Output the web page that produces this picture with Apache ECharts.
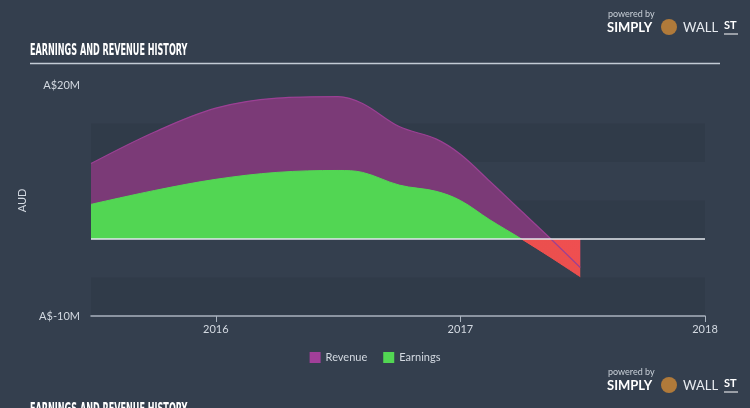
<!DOCTYPE html>
<html>
<head>
<meta charset="utf-8">
<script src="https://cdn.jsdelivr.net/npm/echarts@6/dist/echarts.min.js"></script>
<style>
  html, body { margin: 0; padding: 0; background: #343f4e; }
  #chart { width: 750px; height: 408px; }
</style>
</head>
<body>
<div id="chart"></div>
<script>
// 数据（单位：百万澳元，横轴为小数年份）
const years = [2015.49, 2015.75, 2016.0, 2016.25, 2016.5, 2016.6, 2016.75, 2016.9, 2017.0, 2017.12, 2017.25, 2017.37, 2017.49];
const revenue = [9.8, 13.9, 17.0, 18.3, 18.5, 17.6, 14.6, 13.0, 11.0, 7.5, 3.6, 0.0, -3.7];
const earnings = [4.5, 6.3, 7.75, 8.65, 8.9, 8.65, 7.0, 6.2, 5.0, 2.5, 0.0, -2.4, -4.9];
const yearTicks = [2016, 2017, 2018];

const textColor = '#d3d9e1';
const labelFont = 'Lato, "Open Sans", sans-serif';
const titleFont = '"DejaVu Sans Condensed", "DejaVu Sans", sans-serif';

const chart = echarts.init(document.getElementById('chart'));

// 品牌标识
function logo(top) {
    return [
        { type: 'text', left: 608, top: top, style: { text: 'powered by', fill: '#c9d0d8', font: '9px ' + labelFont } },
        { type: 'text', left: 607, top: top + 11, style: { text: 'SIMPLY', fill: '#ffffff', font: 'bold 13px ' + labelFont } },
        { type: 'circle', shape: { cx: 669, cy: top + 17, r: 8 }, style: { fill: '#b07a3a' } },
        { type: 'text', left: 683, top: top + 11, style: { text: 'WALL', fill: '#e6eaef', font: '13px ' + labelFont } },
        { type: 'text', left: 724, top: top + 10, style: { text: 'ST', fill: '#ffffff', font: 'bold 11px ' + labelFont } },
        { type: 'line', shape: { x1: 724, y1: top + 24, x2: 738, y2: top + 24 }, style: { stroke: '#ffffff', lineWidth: 1 } }
    ];
}

function titleText(top) {
    return {
        type: 'text', left: 30, top: top, scaleX: 0.6,
        style: { text: 'EARNINGS AND REVENUE HISTORY', fill: '#ffffff', font: 'bold 15px ' + titleFont }
    };
}

const option = {
    backgroundColor: '#343f4e',
    animation: false,
    grid: { left: 91, right: 45, top: 85, bottom: 92 },
    graphic: [
        titleText(44),
        { type: 'line', shape: { x1: 30, y1: 63.5, x2: 720, y2: 63.5 }, style: { stroke: '#c3cbd5', lineWidth: 1.5 } },
        titleText(403)
    ].concat(logo(10), logo(368)),
    legend: {
        bottom: 40,
        left: 'center',
        icon: 'rect',
        itemWidth: 11,
        itemHeight: 11,
        itemGap: 16,
        textStyle: { color: textColor, fontSize: 11, fontFamily: labelFont },
        data: ['Revenue', 'Earnings']
    },
    visualMap: {
        show: false,
        type: 'piecewise',
        seriesIndex: 1,
        dimension: 1,
        pieces: [
            { min: -10, max: 0, color: 'rgba(245,80,78,0.95)' },
            { min: 0, max: 20, color: '#52d653' }
        ]
    },
    xAxis: {
        type: 'value',
        min: 2015.49,
        max: 2018,
        axisLine: { onZero: false, lineStyle: { color: '#a9b3bf', width: 1.5 } },
        axisTick: { customValues: yearTicks, length: 6, lineStyle: { color: '#a9b3bf' } },
        axisLabel: {
            customValues: yearTicks,
            color: textColor,
            fontSize: 11,
            fontFamily: labelFont,
            margin: 8,
            formatter: v => String(v)
        },
        splitLine: { show: false }
    },
    yAxis: {
        type: 'value',
        min: -10,
        max: 20,
        interval: 5,
        name: 'AUD',
        nameLocation: 'middle',
        nameGap: 50,
        nameTextStyle: { color: textColor, fontSize: 11, fontFamily: labelFont },
        axisLine: { show: false },
        axisTick: { show: false },
        axisLabel: {
            color: textColor,
            fontSize: 11,
            fontFamily: labelFont,
            margin: 11,
            formatter: v => (v === 20 || v === -10) ? 'A$' + v + 'M' : ''
        },
        splitLine: { show: false },
        splitArea: { show: true, areaStyle: { color: ['#303b49', 'rgba(0,0,0,0)'] } }
    },
    series: [
        {
            name: 'Revenue',
            type: 'line',
            smooth: 0.35,
            symbol: 'none',
            itemStyle: { color: '#a13f99' },
            lineStyle: { color: '#9b4094', width: 1.2 },
            areaStyle: { color: '#7b3a77', opacity: 1 },
            data: years.map((x, i) => [x, revenue[i]])
        },
        {
            name: 'Earnings',
            type: 'line',
            smooth: 0.35,
            symbol: 'none',
            z: 3,
            itemStyle: { color: '#52d653' },
            lineStyle: { width: 1 },
            areaStyle: { opacity: 1 },
            data: years.map((x, i) => [x, earnings[i]])
        },
        {
            // 零线
            name: 'zero',
            type: 'line',
            symbol: 'none',
            z: 4,
            silent: true,
            lineStyle: { color: '#e3e8ee', width: 1.5 },
            data: [[2015.49, 0], [2018, 0]]
        }
    ]
};

chart.setOption(option);
</script>
</body>
</html>
